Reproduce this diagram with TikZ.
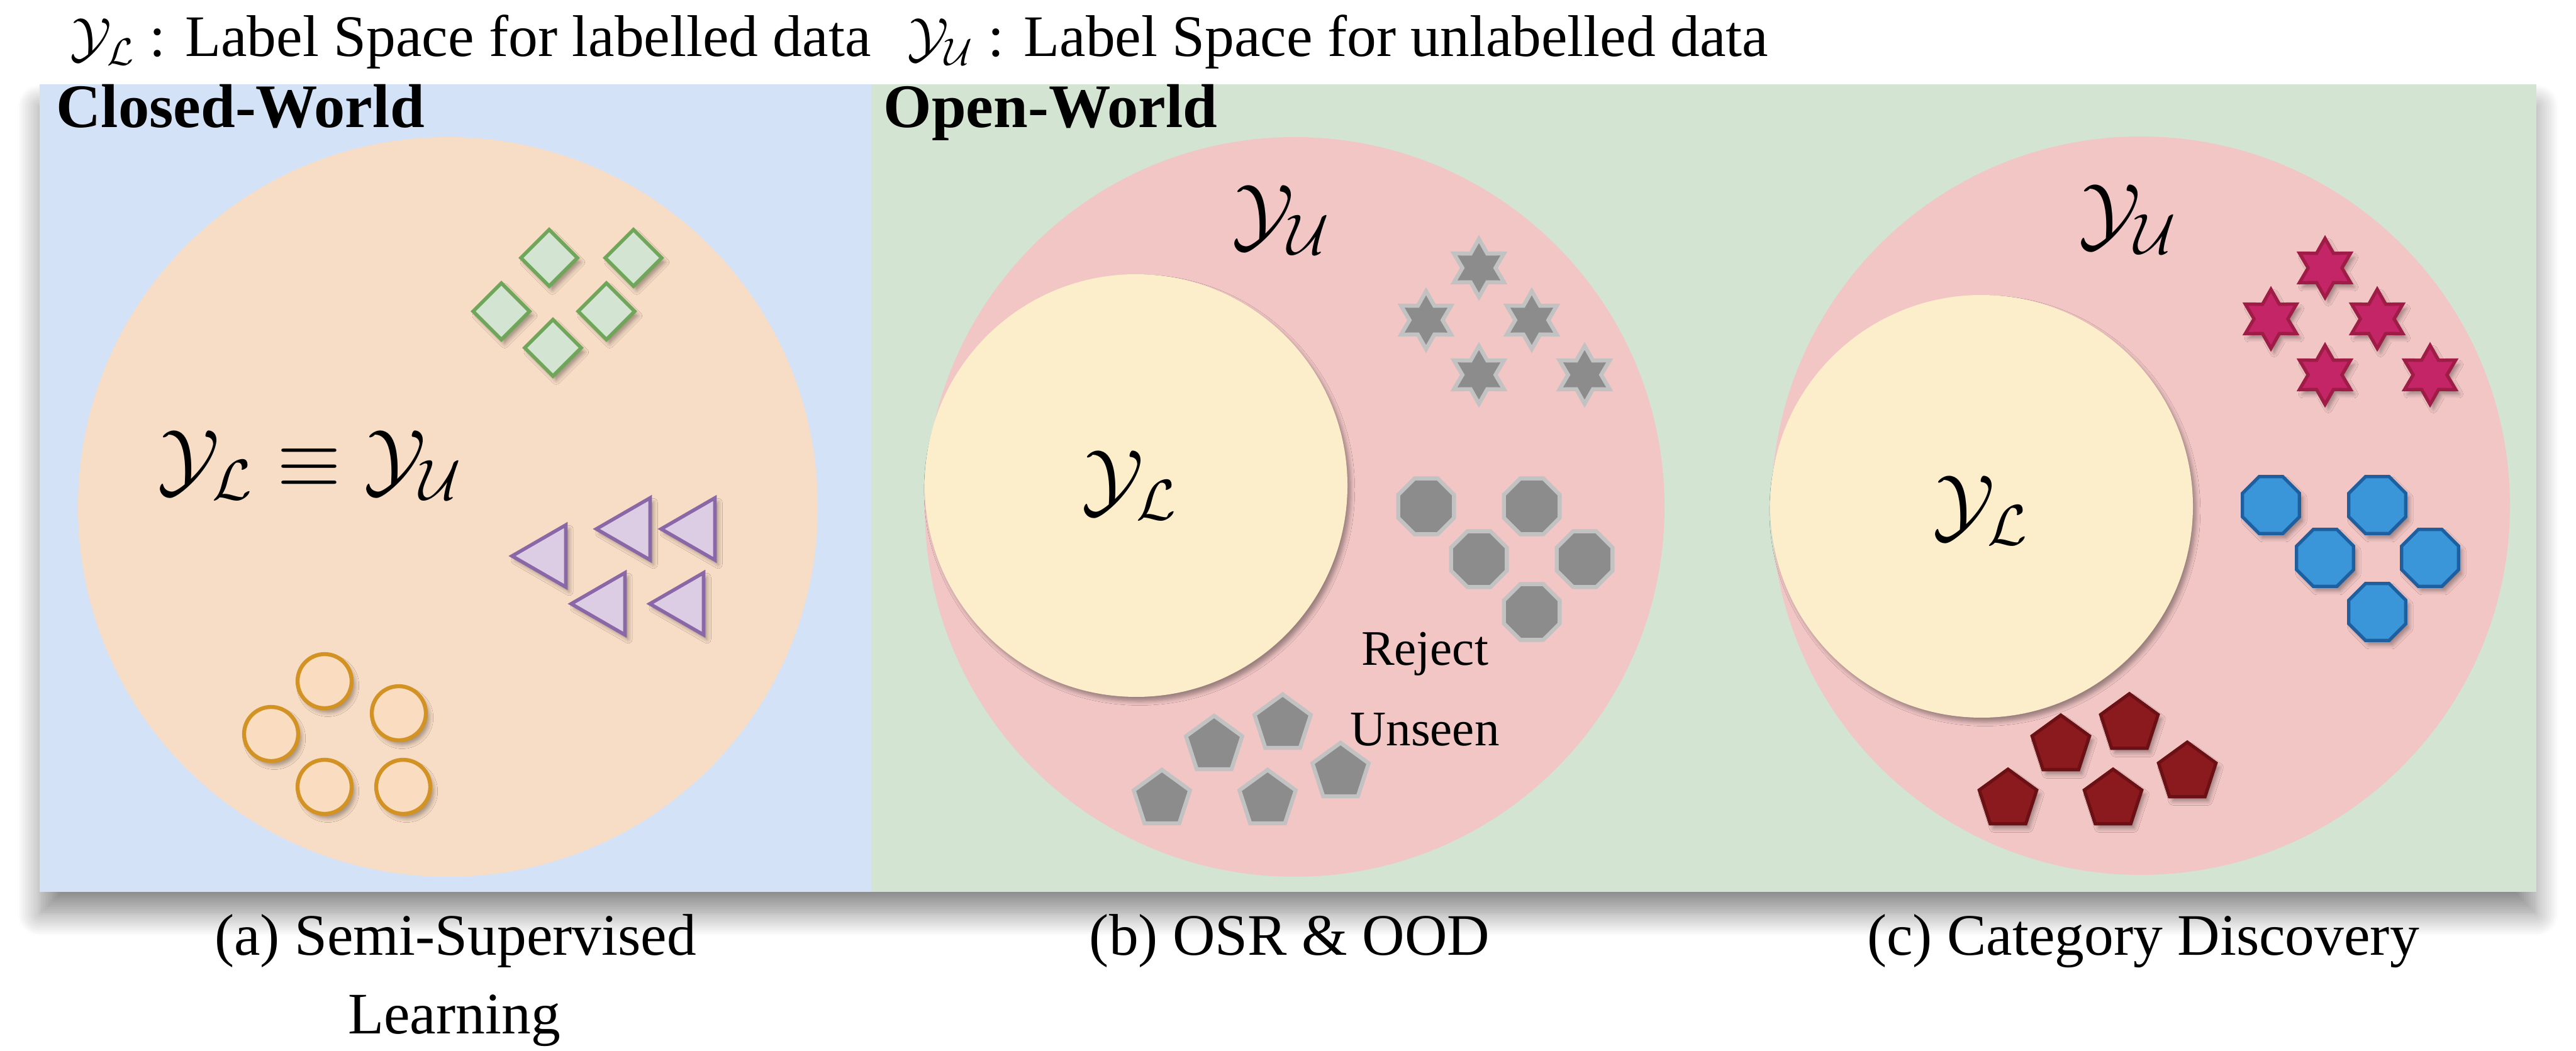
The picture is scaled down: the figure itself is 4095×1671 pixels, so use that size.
\documentclass[tikz,border=0pt]{standalone}
\usepackage{fontspec}
\setmainfont{Liberation Serif}
\newfontfamily\tnr{Liberation Serif}
\usetikzlibrary{shapes.geometric,shadows.blur}
\definecolor{panelblue}{HTML}{D4E2F7}
\definecolor{panelgreen}{HTML}{D3E4D2}
\definecolor{peach}{HTML}{F7DCC6}
\definecolor{pinkc}{HTML}{F1C6C5}
\definecolor{yellowc}{HTML}{FCEECB}
\definecolor{dfill}{HTML}{D3E4D2}\definecolor{dline}{HTML}{6FA65A}
\definecolor{tfill}{HTML}{DCCDE4}\definecolor{tline}{HTML}{8A67A6}
\definecolor{cfill}{HTML}{FADCC0}\definecolor{cline}{HTML}{D39224}
\definecolor{gfill}{HTML}{8C8C8C}\definecolor{gline}{HTML}{C2C2C2}
\definecolor{sfill}{HTML}{C42566}\definecolor{sline}{HTML}{9E1C45}
\definecolor{ofill}{HTML}{3A96D9}\definecolor{oline}{HTML}{1E5FA0}
\definecolor{pfill}{HTML}{8B1A1F}\definecolor{pline}{HTML}{6B1015}
\tikzset{
  sh/.style={blur shadow={shadow xshift=1.5pt,shadow yshift=-2pt,shadow blur steps=6,shadow opacity=35}},
  dia/.style={diamond,aspect=1,minimum size=9.2mm,inner sep=0,draw=dline,fill=dfill,line width=1.6pt,sh},
  tri/.style={regular polygon,regular polygon sides=3,shape border rotate=90,minimum size=11.4mm,inner sep=0,draw=tline,fill=tfill,line width=1.6pt,sh},
  dot/.style={circle,minimum size=8.6mm,inner sep=0,draw=cline,fill=cfill,line width=1.8pt,sh},
  gstar/.style={star,star points=6,star point ratio=1.75,minimum size=9.2mm,inner sep=0,draw=gline,fill=gfill,line width=1.8pt},
  goct/.style={regular polygon,regular polygon sides=8,minimum size=9.6mm,inner sep=0,draw=gline,fill=gfill,line width=1.8pt},
  gpent/.style={regular polygon,regular polygon sides=5,minimum size=9.4mm,inner sep=0,draw=gline,fill=gfill,line width=1.8pt},
  cstar/.style={star,star points=6,star point ratio=1.75,minimum size=9.4mm,inner sep=0,draw=sline,fill=sfill,line width=1.5pt,sh},
  coct/.style={regular polygon,regular polygon sides=8,minimum size=9.8mm,inner sep=0,draw=oline,fill=ofill,line width=1.5pt,sh},
  cpent/.style={regular polygon,regular polygon sides=5,minimum size=9.6mm,inner sep=0,draw=pline,fill=pfill,line width=1.5pt,sh},
  txt/.style={inner sep=0,font=\tnr\fontsize{26.6}{30}\selectfont},
  bigm/.style={inner sep=0,font=\fontsize{20}{24}\selectfont,scale=1.8},
}
\begin{document}
\begin{tikzpicture}[x=0.1mm,y=-0.1mm]
\useasboundingbox (0,0) rectangle (4095,1671);
% panels
\fill[black!45,blur shadow={shadow xshift=0pt,shadow yshift=-10pt,shadow blur steps=12,shadow blur radius=10pt,shadow opacity=45}] (63,134) rectangle (4032,1418);
\fill[panelblue] (63,134) rectangle (1385,1418);
\fill[panelgreen] (1385,134) rectangle (4032,1418);
\node[anchor=base west,inner sep=0,font=\tnr\fontsize{28}{30}\selectfont\bfseries] (cw) at (89,203) {Closed-World};
\node[anchor=base west,inner sep=0,font=\tnr\fontsize{28}{30}\selectfont\bfseries] (ow) at (1404,203) {Open-World};
% legend
\node[txt,anchor=base west] (leg1) at (111,90) {$\mathcal{Y}_{\mathcal{L}}$ : Label Space for labelled data};
\node[txt,anchor=base west] (leg2) at (1442,90) {$\mathcal{Y}_{\mathcal{U}}$ : Label Space for unlabelled data};
% (a)
\node[circle,fill=peach,minimum size=117.6mm,inner sep=0] (ca) at (712,806) {};
\node[bigm] (ma) at (493,740) {$\mathcal{Y}_{\mathcal{L}}\equiv\mathcal{Y}_{\mathcal{U}}$};
\foreach \n/\x/\y in {1/873/410,2/1007/410,3/797/495,4/964/495,5/879/553}
  \node[dia] (d\n) at (\x,\y) {};
\foreach \n/\x/\y in {1/871/884,2/1005/841,3/1108/841,4/965/960,5/1090/960}
  \node[tri] (t\n) at (\x,\y) {};
\foreach \n/\x/\y in {1/516/1083,2/634/1134,3/431/1167,4/516/1251,5/641/1251}
  \node[dot] (o\n) at (\x,\y) {};
% (b)
\node[circle,fill=pinkc,minimum size=117.6mm,inner sep=0] (cb) at (2058,806) {};
\node[circle,fill=yellowc,minimum size=67.2mm,inner sep=0,sh] (ib) at (1806,772) {};
\node[bigm] (mbu) at (2037,350) {$\mathcal{Y}_{\mathcal{U}}$};
\node[bigm] (mbl) at (1796,772) {$\mathcal{Y}_{\mathcal{L}}$};
\foreach \n/\x/\y in {1/2351/426,2/2267/509,3/2435/509,4/2351/596,5/2519/596}
  \node[gstar] (gs\n) at (\x,\y) {};
\foreach \n/\x/\y in {1/2267/805,2/2435/805,3/2351/889,4/2519/889,5/2435/973}
  \node[goct] (go\n) at (\x,\y) {};
\foreach \n/\x/\y in {1/1930/1185,2/2039/1151,3/2131/1228,4/1847/1271,5/2015/1271}
  \node[gpent] (gp\n) at (\x,\y) {};
\node[inner sep=0,font=\tnr\fontsize{22.5}{26}\selectfont] (rej) at (2265,1040) {Reject};
\node[inner sep=0,font=\tnr\fontsize{22.5}{26}\selectfont] (uns) at (2265,1160) {Unseen};
% (c)
\node[circle,fill=pinkc,minimum size=117.4mm,inner sep=0] (cc) at (3403,804) {};
\node[circle,fill=yellowc,minimum size=67.2mm,inner sep=0,sh] (ic) at (3150,805) {};
\node[bigm] (mcu) at (3383,349) {$\mathcal{Y}_{\mathcal{U}}$};
\node[bigm] (mcl) at (3149,812) {$\mathcal{Y}_{\mathcal{L}}$};
\foreach \n/\x/\y in {1/3696/426,2/3610/507,3/3779/507,4/3696/596,5/3863/596}
  \node[cstar] (cs\n) at (\x,\y) {};
\foreach \n/\x/\y in {1/3610/803,2/3779/803,3/3696/887,4/3863/887,5/3779/973}
  \node[coct] (co\n) at (\x,\y) {};
\foreach \n/\x/\y in {1/3276/1185,2/3385/1151,3/3477/1228,4/3192/1271,5/3359/1271}
  \node[cpent] (cp\n) at (\x,\y) {};
% captions
\node[txt,anchor=base] (capa) at (724,1518) {(a) Semi-Supervised};
\node[txt,anchor=base] (capa2) at (722,1643) {Learning};
\node[txt,anchor=base] (capb) at (2050,1518) {(b) OSR \& OOD};
\node[txt,anchor=base] (capc) at (3407,1518) {(c) Category Discovery};
\end{tikzpicture}
\end{document}
